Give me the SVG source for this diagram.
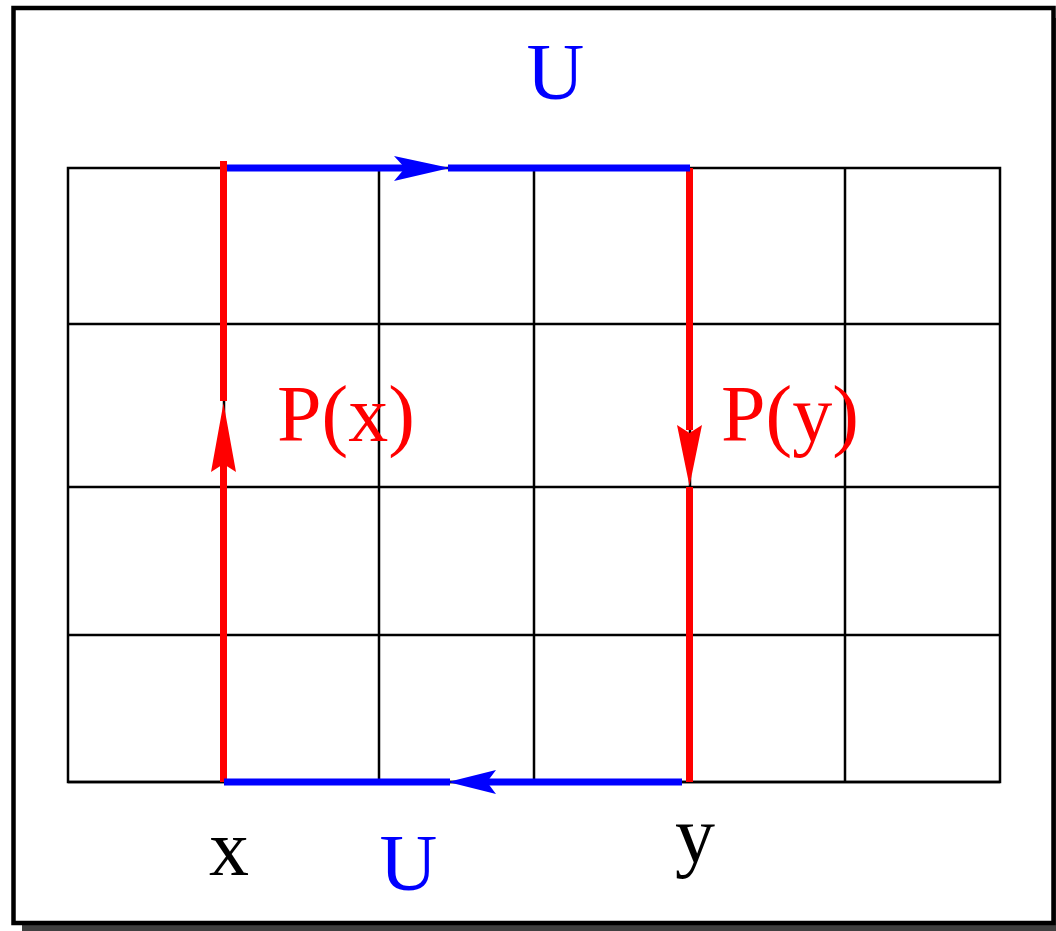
<svg xmlns="http://www.w3.org/2000/svg" width="1056" height="931" viewBox="0 0 1056 931">
  <style>
    .grid{fill:none;stroke:#000;stroke-width:2.5}
    .red{stroke:#ff0000;stroke-width:7;fill:none}
    .blue{stroke:#0000ff;stroke-width:7;fill:none}
    .lbl{font-family:"Liberation Serif","Times New Roman",serif;font-size:80px}
  </style>
  <rect x="0" y="0" width="1056" height="931" fill="#fff"/>
  <g id="frame">
    <rect x="22" y="18" width="1040" height="913" fill="#404040"/>
    <rect x="13.5" y="8" width="1040" height="915" fill="#fff" stroke="#000" stroke-width="4.5"/>
  </g>
  <g id="grid">
    <rect class="grid" x="68" y="168" width="932" height="614"/>
    <path class="grid" d="M224 168V782M379 168V782M534 168V782M690 168V782M845 168V782M68 324H1000M68 487H1000M68 635H1000M68 782H1000"/>
  </g>
  <g id="connectors">
    <path class="red" d="M223.5 161V401"/>
    <path class="red" d="M223.5 460V782"/>
    <path d="M223.5 403L236 472L223.5 464L211 472Z" fill="#ff0000"/>
    <path class="red" d="M689.5 168V430"/>
    <path class="red" d="M689.5 487V782"/>
    <path d="M689.5 486L702 425L689.5 433L677 425Z" fill="#ff0000"/>
    <path class="blue" d="M227 168H408"/>
    <path class="blue" d="M448 168H690"/>
    <path d="M450 168L394 156L405 168L394 181Z" fill="#0000ff"/>
    <path class="blue" d="M224 782H450"/>
    <path class="blue" d="M487 782H682"/>
    <path d="M448 782L496 770L487 782L496 794Z" fill="#0000ff"/>
  </g>
  <g id="labels">
    <text class="lbl" x="555.5" y="99" text-anchor="middle" fill="#0000ff">U</text>
    <text class="lbl" x="277" y="441" fill="#ff0000">P(x)</text>
    <text class="lbl" x="721" y="441" fill="#ff0000">P(y)</text>
    <text class="lbl" x="209" y="875" fill="#000">x</text>
    <text class="lbl" x="408.5" y="890" text-anchor="middle" fill="#0000ff">U</text>
    <text class="lbl" x="675" y="862" fill="#000">y</text>
  </g>
</svg>
